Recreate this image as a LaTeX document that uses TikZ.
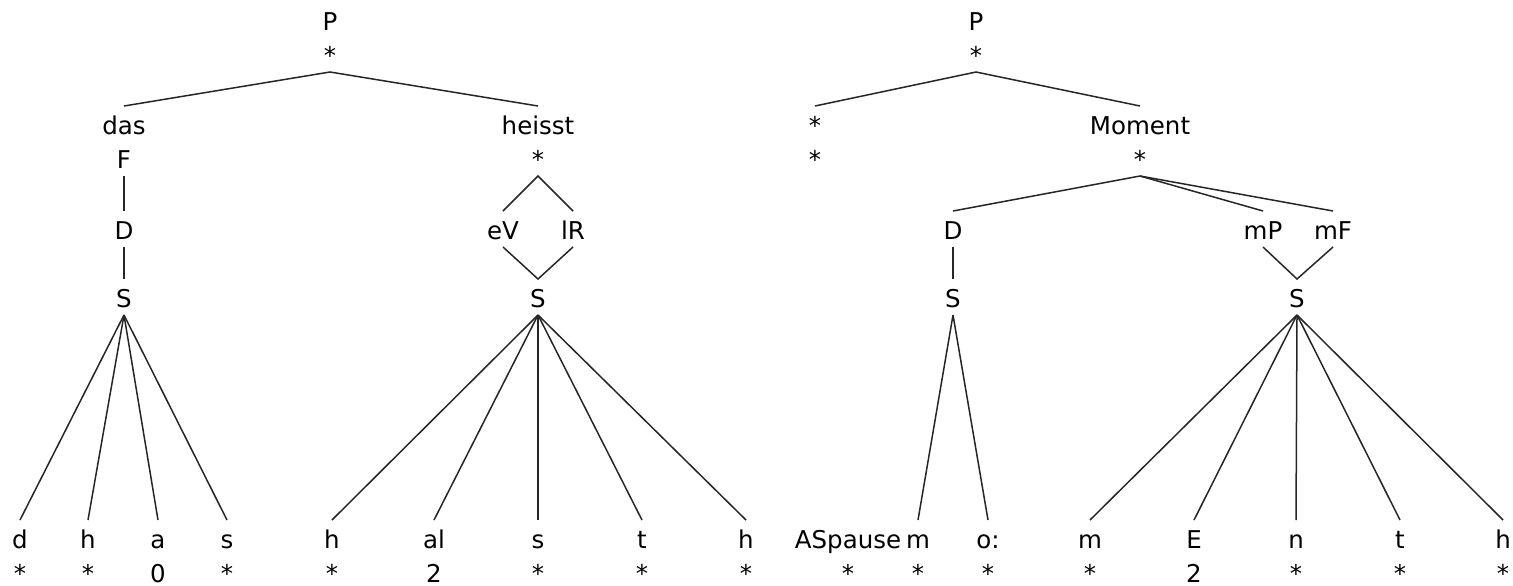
\documentclass[tikz,border=0pt]{standalone}
\usepackage{fontspec}
\setmainfont{DejaVu Sans}
\begin{document}
\begin{tikzpicture}[x=0.5pt,y=-0.5pt,
  lab/.style={anchor=base, inner xsep=0pt, inner ysep=0pt, outer xsep=0pt, outer ysep=4pt,
    text height=10pt, text depth=0pt, font=\fontsize{12.25}{14}\selectfont},
  br/.style={line width=0.75pt, draw=black!85}]
\useasboundingbox (0,0) rectangle (1513,585);
% ---------- left tree ----------
\node[lab] (P1) at (330,30) {P};
\node[lab] (P1s) at (330,64) {*};
\node[lab] (das) at (124,134) {das};
\node[lab] (F) at (124,168) {F};
\node[lab] (D1) at (124,239) {D};
\node[lab] (S1) at (124,307) {S};
\node[lab] (heisst) at (538,134) {heisst};
\node[lab] (hs) at (538,168) {*};
\node[lab] (eV) at (503,239) {eV};
\node[lab] (lR) at (573,239) {lR};
\node[lab] (S2) at (538,307) {S};
% ---------- right tree ----------
\node[lab] (P2) at (976,30) {P};
\node[lab] (P2s) at (976,64) {*};
\node[lab] (x1) at (815,134) {*};
\node[lab] (x2) at (815,168) {*};
\node[lab] (Mo) at (1140,134) {Moment};
\node[lab] (Ms) at (1140,168) {*};
\node[lab] (D2) at (953,239) {D};
\node[lab] (mP) at (1263,239) {mP};
\node[lab] (mF) at (1333,239) {mF};
\node[lab] (S3) at (953,307) {S};
\node[lab] (S4) at (1297,307) {S};
% ---------- leaves ----------
\node[lab] (l1) at (20,548) {d};    \node[lab] (b1) at (20,582) {*};
\node[lab] (l2) at (88,548) {h};    \node[lab] (b2) at (88,582) {*};
\node[lab] (l3) at (158,548) {a};   \node[lab] (b3) at (158,582) {0};
\node[lab] (l4) at (227,548) {s};   \node[lab] (b4) at (227,582) {*};
\node[lab] (l5) at (332,548) {h};   \node[lab] (b5) at (332,582) {*};
\node[lab] (l6) at (434,548) {al};  \node[lab] (b6) at (434,582) {2};
\node[lab] (l7) at (538,548) {s};   \node[lab] (b7) at (538,582) {*};
\node[lab] (l8) at (642,548) {t};   \node[lab] (b8) at (642,582) {*};
\node[lab] (l9) at (746,548) {h};   \node[lab] (b9) at (746,582) {*};
\node[lab] (as) at (848,548) {ASpause}; \node[lab] (ba) at (848,582) {*};
\node[lab] (l10) at (918,548) {m};  \node[lab] (b10) at (918,582) {*};
\node[lab] (l11) at (988,548) {o:}; \node[lab] (b11) at (988,582) {*};
\node[lab] (l12) at (1090,548) {m}; \node[lab] (b12) at (1090,582) {*};
\node[lab] (l13) at (1194,548) {E}; \node[lab] (b13) at (1194,582) {2};
\node[lab] (l14) at (1296,548) {n}; \node[lab] (b14) at (1296,582) {*};
\node[lab] (l15) at (1400,548) {t}; \node[lab] (b15) at (1400,582) {*};
\node[lab] (l16) at (1503,548) {h}; \node[lab] (b16) at (1503,582) {*};
% ---------- branches ----------
\draw[br] (das.north) -- (P1s.south) -- (heisst.north);
\draw[br] (F.south) -- (D1.north);
\draw[br] (D1.south) -- (S1.north);
\foreach \n in {l1,l2,l3,l4} \draw[br] (S1.south) -- (\n.north);
\draw[br] (eV.north) -- (hs.south) -- (lR.north);
\draw[br] (eV.south) -- (S2.north) -- (lR.south);
\foreach \n in {l5,l6,l7,l8,l9} \draw[br] (S2.south) -- (\n.north);
\draw[br] (x1.north) -- (P2s.south) -- (Mo.north);
\draw[br] (Ms.south) -- (D2.north);
\draw[br] (Ms.south) -- (mP.north);
\draw[br] (Ms.south) -- (mF.north);
\draw[br] (D2.south) -- (S3.north);
\draw[br] (mP.south) -- (S4.north) -- (mF.south);
\foreach \n in {l10,l11} \draw[br] (S3.south) -- (\n.north);
\foreach \n in {l12,l13,l14,l15,l16} \draw[br] (S4.south) -- (\n.north);
\end{tikzpicture}
\end{document}
